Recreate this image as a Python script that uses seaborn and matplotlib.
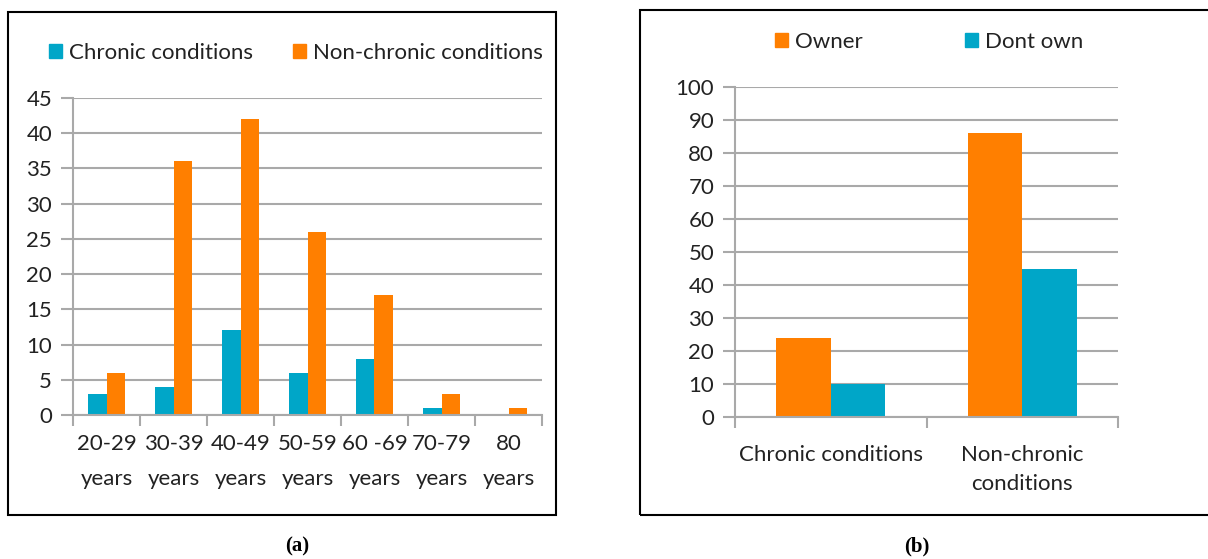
import pandas as pd
import matplotlib.pyplot as plt
import seaborn as sns
from matplotlib.patches import Rectangle, Patch

# panel (a): age groups
age_groups = ["20-29\nyears", "30-39\nyears", "40-49\nyears", "50-59\nyears",
              "60 -69\nyears", "70-79\nyears", "80\nyears"]
chronic = [3, 4, 12, 6, 8, 1, 0]
non_chronic = [6, 36, 42, 26, 17, 3, 1]

# panel (b): ownership
conditions = ["Chronic conditions", "Non-chronic\nconditions"]
owner = [24, 86]
dont_own = [10, 45]

TEAL = "#00a6c8"
ORANGE = "#ff7f00"
GRID = "#a9a9a9"
TEXT = "#222222"
FS = 16

sns.set_theme(style="white")
plt.rcParams['font.family'] = ['Lato', 'DejaVu Sans']
plt.rcParams['text.color'] = TEXT

df_a = pd.DataFrame({
    "group": age_groups * 2,
    "count": chronic + non_chronic,
    "type": ["Chronic conditions"] * len(age_groups) + ["Non-chronic conditions"] * len(age_groups),
})
df_b = pd.DataFrame({
    "cond": conditions * 2,
    "count": owner + dont_own,
    "own": ["Owner"] * len(conditions) + ["Dont own"] * len(conditions),
})

fig = plt.figure(figsize=(12.08, 5.59), dpi=100)
ax_a = fig.add_axes([73 / 1208, 1 - 415 / 559, (542 - 73) / 1208, (415 - 98) / 559])
ax_b = fig.add_axes([735 / 1208, 1 - 417 / 559, (1118 - 735) / 1208, (417 - 87) / 559])


def style_axis(ax, ymax, step, n):
    ax.set_ylim(0, ymax)
    ax.set_xlim(-0.5, n - 0.5)
    ax.set_yticks(range(0, ymax + 1, step))
    ax.yaxis.grid(True, color=GRID, linewidth=1.5)
    ax.set_axisbelow(True)
    for s in ["top", "right"]:
        ax.spines[s].set_visible(False)
    for s in ["left", "bottom"]:
        ax.spines[s].set_color(GRID)
        ax.spines[s].set_linewidth(1.5)
    ax.set_xticks([i - 0.5 for i in range(n + 1)], minor=True)
    ax.tick_params(axis="x", which="minor", length=8, width=1.5, color=GRID, direction="out", bottom=True)
    ax.tick_params(axis="x", which="major", length=0, pad=14, labelsize=FS, labelcolor=TEXT)
    ax.tick_params(axis="y", length=9, width=1.5, color=GRID, left=True, pad=6, labelsize=FS, labelcolor=TEXT)
    ax.set_xlabel("")
    ax.set_ylabel("")
    leg = ax.get_legend()
    if leg is not None:
        leg.remove()


sns.barplot(data=df_a, x="group", y="count", hue="type", ax=ax_a, width=0.56,
            palette=[TEAL, ORANGE], linewidth=0, saturation=1)
style_axis(ax_a, 45, 5, len(age_groups))
ax_a.set_xticks(range(len(age_groups)))
ax_a.set_xticklabels(age_groups, linespacing=1.9)

sns.barplot(data=df_b, x="cond", y="count", hue="own", ax=ax_b, width=0.57,
            palette=[ORANGE, TEAL], linewidth=0, saturation=1)
style_axis(ax_b, 100, 10, len(conditions))
ax_b.set_xticks(range(len(conditions)))
ax_b.set_xticklabels(conditions, linespacing=1.6, va="top")
ax_b.tick_params(axis="x", which="major", pad=20)

# legends
handles_a = [Patch(color=TEAL, label="Chronic conditions"), Patch(color=ORANGE, label="Non-chronic conditions")]
fig.legend(handles=handles_a, loc="center", bbox_to_anchor=(296 / 1208, 1 - 53 / 559), ncol=2,
           frameon=False, fontsize=FS, handlelength=0.6, handleheight=0.6, handletextpad=0.3,
           columnspacing=1.8)
handles_b = [Patch(color=ORANGE, label="Owner"), Patch(color=TEAL, label="Dont own")]
fig.legend(handles=handles_b, loc="center", bbox_to_anchor=(929 / 1208, 1 - 42 / 559), ncol=2,
           frameon=False, fontsize=FS, handlelength=0.6, handleheight=0.6, handletextpad=0.3,
           columnspacing=4.6)

# panel frames
fig.patches.append(Rectangle((8 / 1208, 1 - 515 / 559), (556 - 8) / 1208, (515 - 12) / 559,
                             transform=fig.transFigure, fill=False, edgecolor="black", linewidth=1.5))
fig.patches.append(Rectangle((640 / 1208, 1 - 515 / 559), (1215 - 640) / 1208, (515 - 10) / 559,
                             transform=fig.transFigure, fill=False, edgecolor="black", linewidth=1.5))

fig.text(297 / 1208, 1 - 546 / 559, "(a)", ha="center", va="center", fontsize=15,
         fontweight="bold", family=["Liberation Serif"], color="black")
fig.text(917 / 1208, 1 - 546 / 559, "(b)", ha="center", va="center", fontsize=15,
         fontweight="bold", family=["Liberation Serif"], color="black")

fig.savefig("out.png", dpi=100, facecolor="white")
